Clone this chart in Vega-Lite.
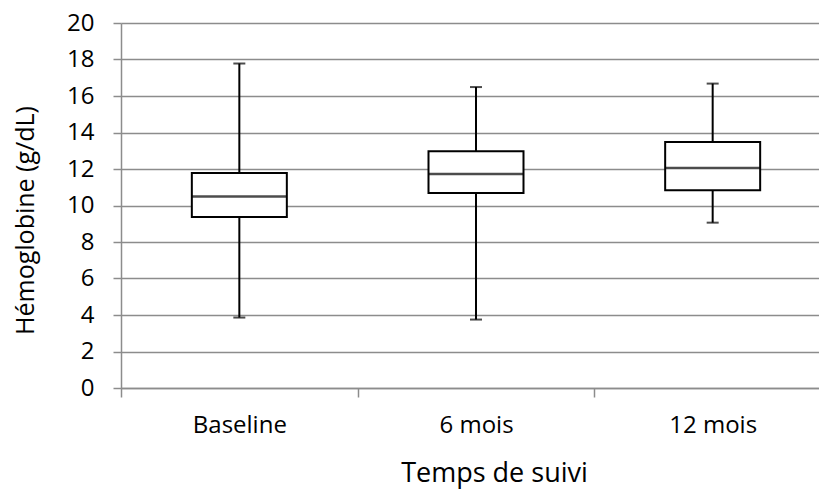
{
  "$schema": "https://vega.github.io/schema/vega-lite/v6.json",
  "autosize": {"type": "none"},
  "padding": {"left": 121, "top": 23, "right": 0, "bottom": 103},
  "width": 710,
  "height": 365,
  "background": "white",
  "data": {
    "values": [
      {"temps": "Baseline", "min": 3.86, "q1": 9.37, "median": 10.5, "q3": 11.78, "max": 17.78},
      {"temps": "6 mois", "min": 3.75, "q1": 10.68, "median": 11.73, "q3": 12.97, "max": 16.49},
      {"temps": "12 mois", "min": 9.06, "q1": 10.83, "median": 12.05, "q3": 13.48, "max": 16.68}
    ]
  },
  "config": {
    "font": "Open Sans",
    "view": {"stroke": null},
    "axis": {
      "labelFont": "Open Sans",
      "titleFont": "Open Sans",
      "labelColor": "black",
      "titleColor": "black",
      "titleFontWeight": "normal",
      "domainColor": "#8c8c8c",
      "tickColor": "#8c8c8c",
      "gridColor": "#8c8c8c",
      "domainWidth": 1.5,
      "tickWidth": 1.5,
      "gridWidth": 1.5,
      "labelOverlap": false
    },
    "axisY": {
      "tickCount": 10,
      "labelFontSize": 24,
      "titleFontSize": 25,
      "tickSize": 8,
      "labelPadding": 19,
      "titlePadding": 28,
      "titleY": 197,
      "grid": true,
      "labelLimit": 0
    }
  },
  "encoding": {
    "x": {
      "field": "temps",
      "type": "nominal",
      "sort": ["Baseline", "6 mois", "12 mois"],
      "scale": {"paddingInner": 0, "paddingOuter": 0},
      "axis": {
        "title": "Temps de suivi",
        "labelAngle": 0,
        "labelFontSize": 24,
        "titleFontSize": 27,
        "tickBand": "extent",
        "tickSize": 9,
        "labelPadding": 16,
        "titlePadding": 23,
        "titleX": 373,
        "grid": false
      }
    }
  },
  "layer": [
    {
      "mark": {"type": "rule", "color": "black", "strokeWidth": 2},
      "encoding": {
        "y": {
          "field": "min",
          "type": "quantitative",
          "scale": {"domain": [0, 20]},
          "axis": {"title": "Hémoglobine (g/dL)"}
        },
        "y2": {"field": "max"}
      }
    },
    {
      "mark": {"type": "bar", "fill": "white", "stroke": "black", "strokeWidth": 2, "size": 95},
      "encoding": {
        "y": {"field": "q1", "type": "quantitative"},
        "y2": {"field": "q3"}
      }
    },
    {
      "mark": {"type": "tick", "color": "black", "thickness": 2.5, "size": 95, "orient": "horizontal"},
      "encoding": {"y": {"field": "median", "type": "quantitative"}}
    },
    {
      "mark": {"type": "tick", "color": "black", "thickness": 2, "size": 12, "orient": "horizontal"},
      "encoding": {"y": {"field": "min", "type": "quantitative"}}
    },
    {
      "mark": {"type": "tick", "color": "black", "thickness": 2, "size": 12, "orient": "horizontal"},
      "encoding": {"y": {"field": "max", "type": "quantitative"}}
    }
  ]
}
